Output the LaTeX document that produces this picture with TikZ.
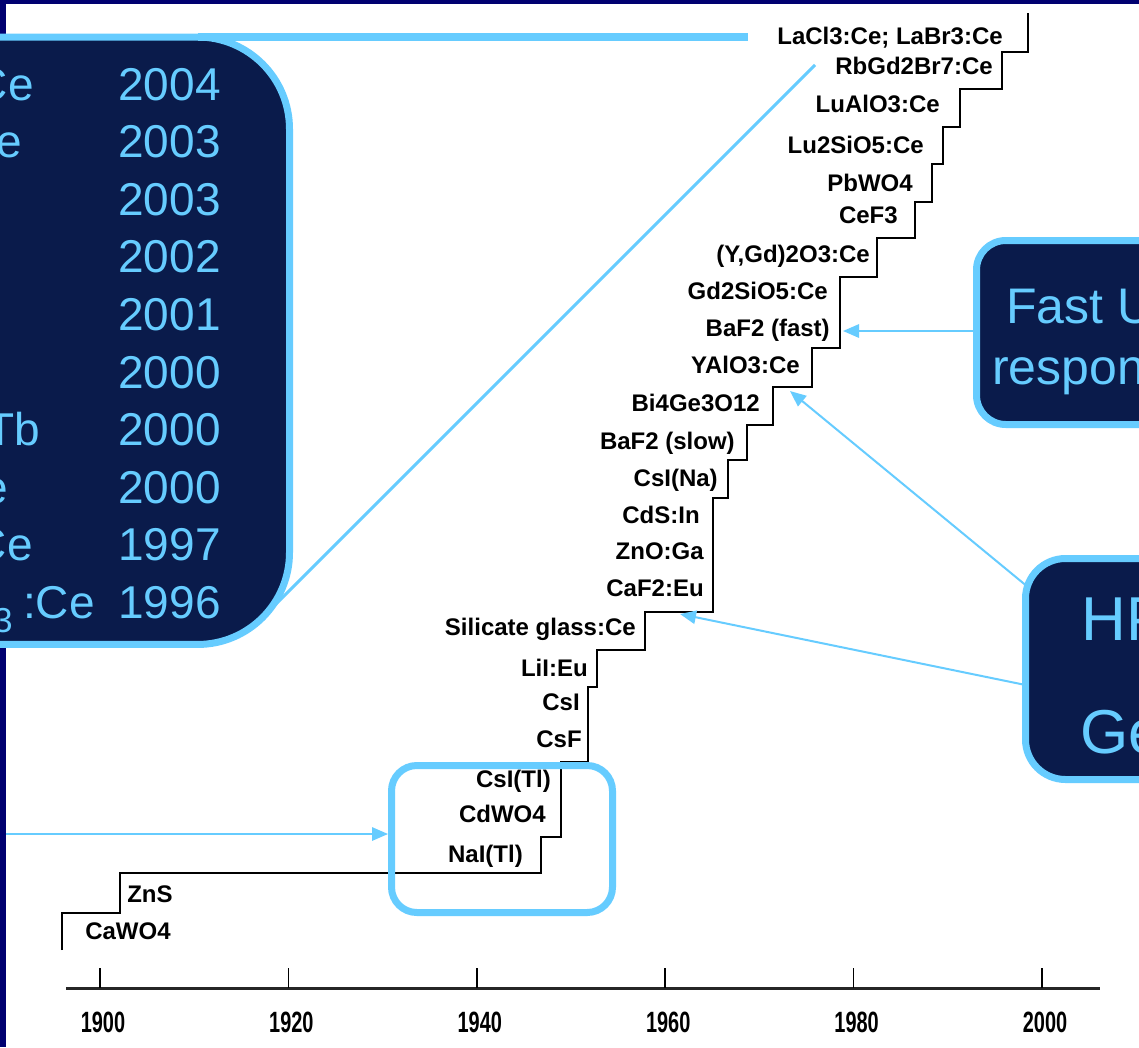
\documentclass[tikz,border=0pt]{standalone}
\usepackage{fontspec}
\setmainfont{Liberation Sans}
\usepackage{tikz}
\usetikzlibrary{arrows.meta,positioning}

\definecolor{framenavy}{RGB}{0,0,112}
\definecolor{boxnavy}{RGB}{10,27,75}
\definecolor{sky}{RGB}{102,204,255}

\newcommand{\narrow}[1]{\scalebox{0.68}[1]{#1}}

\begin{document}
\begin{tikzpicture}[x=0.75pt,y=-0.75pt,
	mat/.style={font=\fontsize{18}{21}\selectfont\bfseries,inner sep=0pt,anchor=base east},
	yr/.style={font=\fontsize{22}{26}\selectfont\bfseries,inner sep=0pt},
	callbox/.style={draw=sky,line width=5.25pt,fill=boxnavy,inner sep=0pt,outer sep=0pt,anchor=north west},
	boxtext/.style={text=sky,inner sep=0pt},
	pointer/.style={-{Triangle[length=12pt,width=10pt]},sky,line width=1.5pt}]

	\useasboundingbox (0,0) rectangle (1139,1047);
	\clip (0,0) rectangle (1139,1047);
	\fill[white] (0,0) rectangle (1139,1047);
	\fill[framenavy] (0,0) rectangle (1139,4);
	\fill[framenavy] (0,0) rectangle (6,1047);

	% zoom lines from the year box to the top of the stairs
	\coordinate (zoomtop) at (748,37);
	\coordinate (zoombot) at (815,65);
	\coordinate (zoomfoot) at (262.5,617.5);
	\draw[sky,line width=2.25pt] (zoombot) -- (zoomfoot);

	\node[callbox,rounded corners=69pt,minimum width=330pt,minimum height=455.6pt,anchor=north east]	(yearbox)	at (289.5,37)	{};
	\draw[sky,line width=6pt] ([xshift=-69pt]yearbox.north east) -- (zoomtop);

	% the stairs
	\draw[line width=1.4pt,black]
		(62,950) |- (120,913) |- (541,873) |- (561,837) |- (588,762) |- (597,687) |- (645,650)
		|- (713,612) |- (728,498) |- (747,460) |- (773,425) |- (812,387) |- (840,348) |- (877,277)
		|- (915,238) |- (932,202) |- (943,164) |- (960,127) |- (1002,89) |- (1028,52) -- (1028,13);

	\node[mat]	(lacl)		at (1003,44)	{LaCl3:Ce; LaBr3:Ce};
	\node[mat]	(rbgd)		at (993,74)		{RbGd2Br7:Ce};
	\node[mat]	(luap)		at (940,112)	{LuAlO3:Ce};
	\node[mat]	(lso)		at (924,153)	{Lu2SiO5:Ce};
	\node[mat]	(pbwo)		at (913,191)	{PbWO4};
	\node[mat]	(cef)		at (898,223)	{CeF3};
	\node[mat]	(ygdo)		at (870,262)	{(Y,Gd)2O3:Ce};
	\node[mat]	(gso)		at (828,299)	{Gd2SiO5:Ce};
	\node[mat]	(bafast)	at (830,336)	{BaF2 (fast)};
	\node[mat]	(yap)		at (800,373)	{YAlO3:Ce};
	\node[mat]	(bgo)		at (760,411)	{Bi4Ge3O12};
	\node[mat]	(baslow)	at (735,449)	{BaF2 (slow)};
	\node[mat]	(csina)		at (718,486)	{CsI(Na)};
	\node[mat]	(cdsin)		at (700,523)	{CdS:In};
	\node[mat]	(znoga)		at (704,559)	{ZnO:Ga};
	\node[mat]	(caf)		at (704,596)	{CaF2:Eu};
	\node[mat]	(silglass)	at (636,635)	{Silicate glass:Ce};
	\node[mat]	(lii)		at (588,676)	{LiI:Eu};
	\node[mat]	(csi)		at (580,710)	{CsI};
	\node[mat]	(csf)		at (582,747)	{CsF};
	\node[mat]	(csitl)		at (551,787)	{CsI(Tl)};
	\node[mat]	(cdwo)		at (546,822)	{CdWO4};
	\node[mat]	(naitl)		at (523,862)	{NaI(Tl)};
	\node[mat,anchor=base west]	(zns)	at (127,902)	{ZnS};
	\node[mat,anchor=base west]	(cawo)	at (85,939)		{CaWO4};

	% boxes and pointers
	\node[callbox,fill=none,rounded corners=19pt,minimum width=165.75pt,minimum height=110.25pt]	(naibox)	at (391.5,765.5)	{};
	\node[callbox,rounded corners=22pt,minimum width=190pt,minimum height=138pt]	(fastbox)	at (976.5,240.5)	{};
	\node[callbox,rounded corners=30pt,minimum width=150pt,minimum height=165.75pt]	(hpbox)		at (1025.5,558.5)	{};

	\coordinate (leftend)	at (6,834);
	\coordinate (fastpt)	at (843,331);
	\coordinate (yappt)		at (790,391);
	\coordinate (cafpt)		at (680,614);

	\draw[pointer,shorten >=2.6pt]	(leftend)					-- (naibox.west |- leftend);
	\draw[pointer]					(fastbox.west |- fastpt)	-- (fastpt);
	\draw[pointer]					([yshift=63pt]hpbox.west)	-- (yappt);
	\draw[pointer]					([yshift=-12pt]hpbox.west)	-- (cafpt);

	% texts in the boxes
	\node[boxtext,anchor=base east,font=\fontsize{34.5}{40}\selectfont]	(y1)	at (221,100)	{2004};
	\node[boxtext,anchor=base east,font=\fontsize{34.5}{40}\selectfont]	(y2)	at (221,157.6)	{2003};
	\node[boxtext,anchor=base east,font=\fontsize{34.5}{40}\selectfont]	(y3)	at (221,215.2)	{2003};
	\node[boxtext,anchor=base east,font=\fontsize{34.5}{40}\selectfont]	(y4)	at (221,272.8)	{2002};
	\node[boxtext,anchor=base east,font=\fontsize{34.5}{40}\selectfont]	(y5)	at (221,330.4)	{2001};
	\node[boxtext,anchor=base east,font=\fontsize{34.5}{40}\selectfont]	(y6)	at (221,388)	{2000};
	\node[boxtext,anchor=base east,font=\fontsize{34.5}{40}\selectfont]	(y7)	at (221,445.6)	{2000};
	\node[boxtext,anchor=base east,font=\fontsize{34.5}{40}\selectfont]	(y8)	at (221,503.2)	{2000};
	\node[boxtext,anchor=base east,font=\fontsize{34.5}{40}\selectfont]	(y9)	at (221,560.8)	{1997};
	\node[boxtext,anchor=base east,font=\fontsize{34.5}{40}\selectfont]	(y10)	at (221,618.4)	{1996};

	\node[boxtext,anchor=base east,font=\fontsize{34.5}{40}\selectfont]	(m1)	at (34,100)		{Ce};
	\node[boxtext,anchor=base east,font=\fontsize{34.5}{40}\selectfont]	(m2)	at (22,157.6)	{e};
	\node[boxtext,anchor=base east,font=\fontsize{34.5}{40}\selectfont]	(m7)	at (40,445.6)	{Tb};
	\node[boxtext,anchor=base east,font=\fontsize{34.5}{40}\selectfont]	(m8)	at (8,503.2)	{e};
	\node[boxtext,anchor=base east,font=\fontsize{34.5}{40}\selectfont]	(m9)	at (33,560.8)	{Ce};
	\node[boxtext,anchor=base east,font=\fontsize{34.5}{40}\selectfont]	(m10)	at (95,618.4)	{:Ce};
	\node[boxtext,anchor=base east,font=\fontsize{26}{30}\selectfont]		(sub3)	at (13,632)		{3};

	\node[boxtext,anchor=base west,font=\fontsize{37.5}{44}\selectfont]	(fast1)	at (1006,323)	{Fast U};
	\node[boxtext,anchor=base west,font=\fontsize{37.5}{44}\selectfont]	(fast2)	at (992,384)	{respon};
	\node[boxtext,anchor=base west,font=\fontsize{46.5}{54}\selectfont]	(hp1)	at (1081,640)	{HP};
	\node[boxtext,anchor=base west,font=\fontsize{46.5}{54}\selectfont]	(hp2)	at (1080,753)	{Ge};

	% time axis
	\draw[line width=2.25pt,black!85] (66,988) -- (1100,988);
	\foreach \yr [count=\i from 0] in {1900,1920,...,2000} {
		\draw[line width=1.3pt] (100+188.4*\i,968) -- (100+188.4*\i,988);
		\node[yr]	(t\yr)	at (103+188.4*\i,1022)	{\narrow{\yr}};
	}
\end{tikzpicture}
\end{document}
